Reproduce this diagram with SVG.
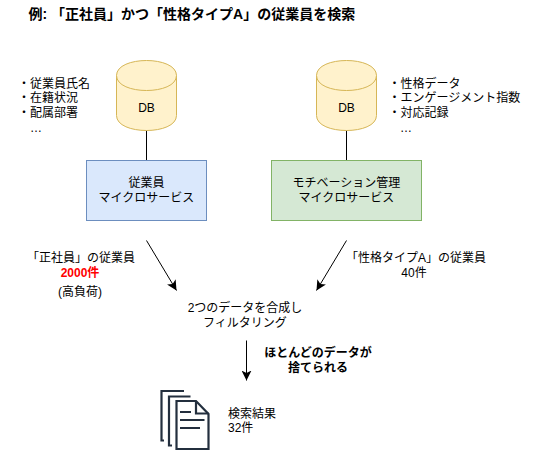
<svg xmlns="http://www.w3.org/2000/svg" width="556" height="450" viewBox="0 0 556 450">
<style>
text{font-family:"Liberation Sans","Noto Sans CJK JP",sans-serif;font-size:12px;fill:#000}
.m{text-anchor:middle}
.b{font-weight:bold}
.db{fill:#fff2cc;stroke:#d6b656;stroke-width:1}
.ln{fill:none;stroke:#000;stroke-width:1}
.doc{fill:none;stroke:#232f3e;stroke-width:2.2}
</style>
<defs>
<marker id="arr" markerUnits="userSpaceOnUse" markerWidth="12" markerHeight="10" refX="10" refY="5" orient="auto"><path d="M0 0L10 5L0 10L2.5 5Z" fill="#000"/></marker>
</defs>
<rect width="556" height="450" fill="#fff"/>
<text id="title" class="b" x="28.5" y="19" style="font-size:14px">例: 「正社員」かつ「性格タイプA」の従業員を検索</text>
<g id="connectors">
<path class="ln" d="M146.5 130.5V160.5"/>
<path class="ln" d="M346.5 130.5V160.5"/>
<path class="ln" d="M146.5 240.5L176.5 290.5" marker-end="url(#arr)"/>
<path class="ln" d="M346.5 240.5L316.5 290.5" marker-end="url(#arr)"/>
<path class="ln" d="M246.5 340.5V380.5" marker-end="url(#arr)"/>
</g>
<g id="db1">
<path class="db" d="M116.5 75.5C116.5 55.5 176.5 55.5 176.5 75.5V115.5C176.5 135.5 116.5 135.5 116.5 115.5Z"/>
<path class="db" d="M116.5 75.5C116.5 95.5 176.5 95.5 176.5 75.5"/>
<text class="m" x="146.5" y="112">DB</text>
</g>
<g id="db2">
<path class="db" d="M316.5 75.5C316.5 55.5 376.5 55.5 376.5 75.5V115.5C376.5 135.5 316.5 135.5 316.5 115.5Z"/>
<path class="db" d="M316.5 75.5C316.5 95.5 376.5 95.5 376.5 75.5"/>
<text class="m" x="346.5" y="112">DB</text>
</g>
<g id="list1">
<text x="18" y="88">・従業員氏名</text>
<text x="18" y="102">・在籍状況</text>
<text x="18" y="117">・配属部署</text>
<text x="30" y="132">…</text>
</g>
<g id="list2">
<text x="388.5" y="88">・性格データ</text>
<text x="388.5" y="102">・エンゲージメント指数</text>
<text x="388.5" y="117">・対応記録</text>
<text x="400" y="132">…</text>
</g>
<g id="svc1">
<rect x="86.5" y="160.5" width="120" height="60" fill="#dae8fc" stroke="#6c8ebf"/>
<text class="m" x="146.5" y="187">従業員</text>
<text class="m" x="146.5" y="202">マイクロサービス</text>
</g>
<g id="svc2">
<rect x="271.5" y="160.5" width="150" height="60" fill="#d5e8d4" stroke="#82b366"/>
<text class="m" x="346.5" y="187">モチベーション管理</text>
<text class="m" x="346.5" y="202">マイクロサービス</text>
</g>
<g id="label1">
<text class="m" x="81" y="262">「正社員」の従業員</text>
<text class="m b" x="80" y="277" style="fill:#ff0000">2000件</text>
<text class="m" x="80" y="296">(高負荷)</text>
</g>
<g id="label2">
<text class="m" x="416" y="262">「性格タイプA」の従業員</text>
<text class="m" x="414" y="277">40件</text>
</g>
<g id="merge">
<text class="m" x="245" y="312">2つのデータを合成し</text>
<text class="m" x="245" y="327">フィルタリング</text>
</g>
<g id="drop">
<text class="m b" x="318" y="357">ほとんどのデータが</text>
<text class="m b" x="318" y="372">捨てられる</text>
</g>
<g id="docs">
<path class="doc" d="M164 440.5H161.5V391H184"/>
<path class="doc" d="M172 445.5H169V396.5H190.5"/>
<path class="doc" d="M176.5 401H196L208.5 414V449H176.5Z"/>
<path class="doc" d="M196 401V413.5H208.5"/>
<path class="doc" d="M180 412H191M180 420H204.5M180 428H200"/>
</g>
<g id="result">
<text x="228" y="417.5">検索結果</text>
<text x="228" y="432">32件</text>
</g>
</svg>
